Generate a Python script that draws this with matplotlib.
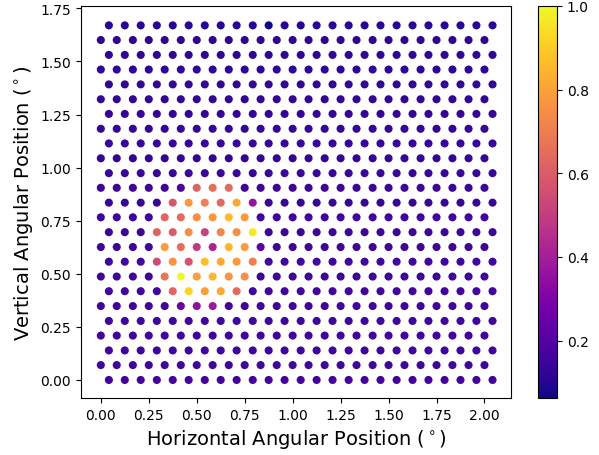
import matplotlib
matplotlib.use("Agg")
import matplotlib.pyplot as plt
import numpy as np

# Column positions (deg) for rows shifted by half a step, and for unshifted rows
x_shifted = [0.042, 0.125, 0.208, 0.292, 0.375, 0.458, 0.542, 0.625, 0.708, 0.792,
             0.875, 0.958, 1.042, 1.125, 1.208, 1.292, 1.375, 1.458, 1.542, 1.625,
             1.708, 1.792, 1.875, 1.958, 2.042]
x_plain = [0.0, 0.083, 0.167, 0.25, 0.333, 0.417, 0.5, 0.583, 0.667, 0.75,
           0.833, 0.917, 1.0, 1.083, 1.167, 1.25, 1.333, 1.417, 1.5, 1.583,
           1.667, 1.75, 1.833, 1.917, 2.0]
# Row heights (deg), bottom to top; even rows use shifted columns
row_y = [0.0, 0.070, 0.139, 0.209, 0.278, 0.348, 0.418, 0.487, 0.557, 0.626,
         0.696, 0.766, 0.835, 0.905, 0.974, 1.044, 1.114, 1.183, 1.253, 1.322,
         1.392, 1.462, 1.531, 1.601, 1.670]
# Background level of each row (bottom to top)
row_background = [0.165, 0.16, 0.165, 0.16, 0.155, 0.16, 0.155, 0.15, 0.155, 0.15,
                  0.145, 0.15, 0.14, 0.145, 0.14, 0.135, 0.14, 0.13, 0.135, 0.125,
                  0.13, 0.12, 0.125, 0.115, 0.11]
# Bright spot: (row, column, value)
hot_row = [13, 13, 13, 13,
           12, 12, 12, 12, 12, 12,
           11, 11, 11, 11, 11, 11,
           10, 10, 10, 10, 10, 10, 10,
           9, 9, 9, 9, 9, 9, 9,
           8, 8, 8, 8, 8, 8, 8,
           7, 7, 7, 7, 7, 7,
           6, 6, 6, 6, 6,
           5, 5, 5,
           24]
hot_col = [5, 6, 7, 8,
           4, 5, 6, 7, 8, 9,
           4, 5, 6, 7, 8, 9,
           3, 4, 5, 6, 7, 8, 9,
           4, 5, 6, 7, 8, 9, 10,
           3, 4, 5, 6, 7, 8, 9,
           4, 5, 6, 7, 8, 9,
           4, 5, 6, 7, 8,
           5, 6, 7,
           10]
hot_val = [0.18, 0.62, 0.66, 0.64,
           0.58, 0.78, 0.70, 0.64, 0.82, 0.36,
           0.63, 0.64, 0.75, 0.77, 0.86, 0.78,
           0.62, 0.60, 0.75, 0.52, 0.72, 0.75, 0.96,
           0.79, 0.65, 0.49, 0.42, 0.85, 0.79, 0.22,
           0.54, 0.76, 0.57, 0.87, 0.82, 0.78, 0.70,
           0.68, 1.00, 0.79, 0.85, 0.76, 0.75,
           0.63, 0.92, 0.79, 0.81, 0.64,
           0.26, 0.35, 0.38,
           0.063]

xs, ys, vs = [], [], []
hot = {(r, c): v for r, c, v in zip(hot_row, hot_col, hot_val)}
for r, y in enumerate(row_y):
    cols = x_shifted if r % 2 == 0 else x_plain
    for c, x in enumerate(cols):
        xs.append(x)
        ys.append(y)
        vs.append(hot.get((r, c), row_background[r]))

fig = plt.figure(figsize=(5.99, 4.56), dpi=100)
ax = fig.add_axes([0.135, 0.125, 0.718, 0.86])
cax = fig.add_axes([0.898, 0.125, 0.032, 0.86])

sc = ax.scatter(xs, ys, c=vs, cmap="plasma", s=34, linewidths=0,
                vmin=0.063, vmax=1.0)
ax.set_xlim(-0.104, 2.138)
ax.set_ylim(-0.085, 1.762)
ax.set_xticks([0.0, 0.25, 0.5, 0.75, 1.0, 1.25, 1.5, 1.75, 2.0])
ax.set_yticks([0.0, 0.25, 0.5, 0.75, 1.0, 1.25, 1.5, 1.75])
ax.xaxis.set_major_formatter(matplotlib.ticker.FormatStrFormatter("%.2f"))
ax.yaxis.set_major_formatter(matplotlib.ticker.FormatStrFormatter("%.2f"))
ax.set_xlabel(r"Horizontal Angular Position ($^\circ$)", fontsize=14)
ax.set_ylabel(r"Vertical Angular Position ($^\circ$)", fontsize=14)

cb = fig.colorbar(sc, cax=cax)
cb.set_ticks([0.2, 0.4, 0.6, 0.8, 1.0])
cb.outline.set_linewidth(0.8)

fig.savefig("out.png", dpi=100)
